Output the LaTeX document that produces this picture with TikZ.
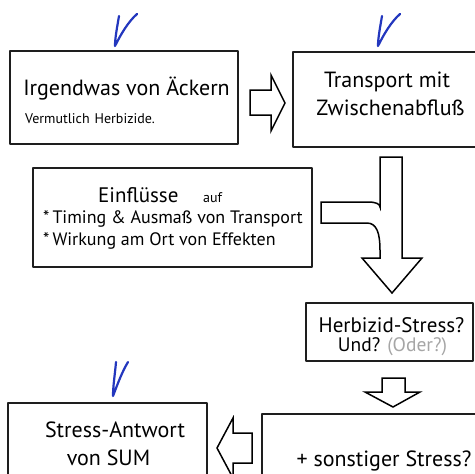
\documentclass[tikz,border=0pt]{standalone}
\usepackage{fontspec}
\setmainfont{PT Sans}
\definecolor{haken}{RGB}{35,55,190}
\definecolor{rahmen}{RGB}{30,30,30}
\begin{document}
\begin{tikzpicture}[
    x=1pt, y=-1pt,
    line cap=round,
    line join=round,
    box/.style={draw=rahmen, line width=1.6pt, rectangle, inner sep=0pt},
    pfeil/.style={draw=black, line width=1.5pt, line join=miter, fill=white},
    vmark/.style={draw=haken, line width=2.2pt},
    gross/.style={font=\fontsize{22}{25}\selectfont, inner sep=0pt},
    mittel/.style={font=\fontsize{21}{24}\selectfont, inner sep=0pt},
    zeile/.style={font=\fontsize{18}{21}\selectfont, inner sep=0pt},
    klein/.style={font=\fontsize{14}{17}\selectfont, inner sep=0pt}
]

% -------------------------------------------------
% Rahmen des Bildes
% -------------------------------------------------
\useasboundingbox (0,0) rectangle (475,474);
\clip (0,0) rectangle (475,474);

% -------------------------------------------------
% Kästen
% -------------------------------------------------
\node[box, minimum width=228pt, minimum height=93pt] (acker)     at (124,97.5)  {};
\node[box, minimum width=186pt, minimum height=95pt] (transport) at (386,99.5)  {};
\node[box, minimum width=279pt, minimum height=99pt] (einfluss)  at (172.5,217.5) {};
\node[box, minimum width=167pt, minimum height=58pt] (herbizid)  at (389.5,332) {};
\node[box, minimum width=216pt, minimum height=80pt] (sonstig)   at (370,454)   {};
\node[box, minimum width=199pt, minimum height=90pt] (antwort)   at (107.5,448) {};

% -------------------------------------------------
% Texte
% -------------------------------------------------
\node[gross, anchor=base]      (t1a) at (126.5,95)  {Irgendwas von Äckern};
\node[klein, anchor=base west] (t1b) at (25,123)    {Vermutlich\hspace{5pt}Herbizide.};

\node[gross, anchor=base] (t2a) at (387,87)  {Transport mit};
\node[gross, anchor=base] (t2b) at (390.5,115) {Zwischenabfluß};

\node[mittel, anchor=base west] (t3a) at (98,202)  {Einflüsse};
\node[klein,  anchor=base west] (t3b) at (203,202) {auf};
\node[zeile,  anchor=base west] (t3c) at (43,223)  {*\,Timing \& Ausmaß von Transport};
\node[zeile,  anchor=base west] (t3d) at (43,245)  {*\,Wirkung am Ort von Effekten};

\node[mittel, anchor=base] (t4a) at (391.5,332) {Herbizid-Stress?};
\node[zeile,  anchor=base, font=\fontsize{19.5}{22}\selectfont]
    (t4b) at (392.5,351) {Und? \textcolor{gray!70}{(Oder?)}};

\node[gross, anchor=base] (t5a) at (384,466) {+ sonstiger Stress?};

\node[gross, anchor=base] (t6a) at (115,437)   {Stress-Antwort};
\node[gross, anchor=base] (t6b) at (108.5,465) {von SUM};

% -------------------------------------------------
% Blockpfeile
% -------------------------------------------------

% nach rechts: Äcker -> Transport
\draw[pfeil] (250,90) -- (271,90) -- (271,75) -- (285,103)
    -- (271,131) -- (271,115) -- (250,115) -- cycle;

% von oben mit Zufluss von links: -> Herbizid-Stress
\draw[pfeil] (380,157) -- (402,157) -- (402,258) -- (422,258)
    -- (392,293) -- (362,258) -- (380,258) -- (380,250)
    .. controls (380,234) and (377,223) .. (367,223)
    -- (321,223) -- (321,202) -- (368,202)
    .. controls (376,202) and (380,204) .. (380,207) -- cycle;

% nach unten: Herbizid-Stress -> sonstiger Stress
\draw[pfeil] (382,378) -- (405,378) -- (405,392) -- (420,392)
    -- (393,407) -- (365,392) -- (382,392) -- cycle;

% nach links: sonstiger Stress -> Stress-Antwort
\draw[pfeil] (252,433) -- (233,433) -- (233,418) -- (217,448)
    -- (233,478) -- (233,463) -- (252,463) -- cycle;

% -------------------------------------------------
% Haken (handschriftlich)
% -------------------------------------------------
\draw[vmark] (119,16) .. controls (117,28) and (115,38) .. (115,46)
    .. controls (121,34) and (128,22) .. (137,14);
\draw[vmark] (382,16) .. controls (380,28) and (378,38) .. (378,46)
    .. controls (384,34) and (391,22) .. (400,14);
\draw[vmark] (116,362) .. controls (115,374) and (113,386) .. (113,396)
    .. controls (118,383) and (122,372) .. (128,362);

\end{tikzpicture}
\end{document}
